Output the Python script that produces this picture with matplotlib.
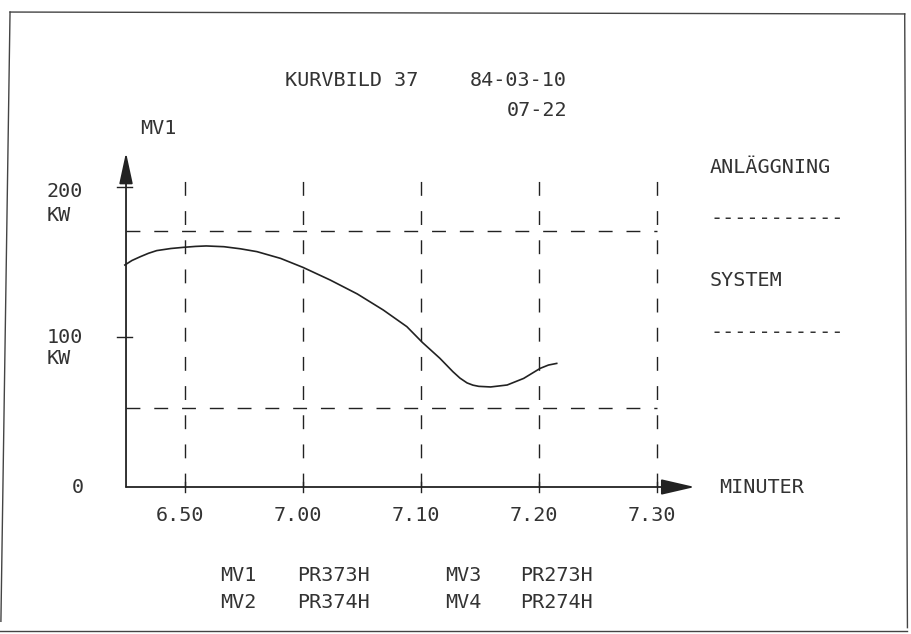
import matplotlib
matplotlib.use("Agg")
import matplotlib.pyplot as plt
from matplotlib.lines import Line2D

# tid i minuter efter 6.50, effekt i kW (MV1)
tid = [-5.1, -4.5, -3.8, -3.1, -2.4, -1.2, -0.1, 0.9, 1.8, 3.3, 4.7, 6.1, 8.1,
       10.0, 12.3, 14.6, 16.8, 18.8, 20.1, 21.6, 22.7, 23.3, 23.9, 24.4, 24.9,
       25.9, 27.3, 28.7, 30.1, 30.8, 31.5]
effekt = [148, 151, 153.5, 155.8, 157.6, 159, 159.8, 160.4, 160.7, 160.2,
          158.8, 156.9, 152.4, 146.4, 138, 128.7, 118, 106.9, 96.5, 85.8,
          76.9, 72.6, 69.4, 67.9, 67.1, 66.7, 68, 72.4, 79.1, 81.3, 82.4]

x_ticks = [0, 10, 20, 30, 40]
x_etiketter = ["6.50", "7.00", "7.10", "7.20", "7.30"]
y_ticks = [100, 200]
gransvarden = [171, 53]  # horisontella streckade linjer

matare = [("MV1", "PR373H"), ("MV2", "PR374H")]
matare2 = [("MV3", "PR273H"), ("MV4", "PR274H")]

LINJE = "#222222"
TEXT = "#333333"
FS = 14.5

plt.rcParams['font.family'] = ['DejaVu Sans Mono', 'DejaVu Sans']
plt.rcParams['lines.scale_dashes'] = False

fig = plt.figure(figsize=(9.12, 6.34), dpi=100)
fig.patch.set_facecolor("white")
ax = fig.add_axes([0, 0, 1, 1])
ax.set_xlim(-15.68, 61.61)
ax.set_ylim(-98, 324.67)
ax.axis("off")

# rutnät
for xt in x_ticks:
    ax.plot([xt, xt], [0, 209], color=LINJE, lw=1.0, dashes=(10, 11))
    ax.plot([xt, xt], [-3.5, 3.5], color=LINJE, lw=1.0)
for g in gransvarden:
    ax.plot([-5, 40], [g, g], color=LINJE, lw=1.0, dashes=(10, 10))

# axlar med pilar
ax.annotate("", xy=(-5, 223), xytext=(-5, 0),
            arrowprops=dict(arrowstyle="-|>,head_length=1.2,head_width=0.26",
                            mutation_scale=16, lw=1.3, color=LINJE,
                            shrinkA=0, shrinkB=0))
ax.annotate("", xy=(43.2, 0), xytext=(-5, 0),
            arrowprops=dict(arrowstyle="-|>,head_length=1.3,head_width=0.3",
                            mutation_scale=16, lw=1.3, color=LINJE,
                            shrinkA=0, shrinkB=0))
for yt in y_ticks:
    ax.plot([-5.8, -4.5], [yt, yt], color=LINJE, lw=1.0)

# kurvan
ax.plot(tid, effekt, color=LINJE, lw=1.2)

# texter
kw = dict(color=TEXT, fontsize=FS, va="center")
for xt, lab in zip(x_ticks, x_etiketter):
    ax.text(xt - 0.45, -19.3, lab, ha="center", **kw)
ax.text(-11.7, 196.7, "200", ha="left", **kw)
ax.text(-11.7, 181.3, "KW", ha="left", **kw)
ax.text(-11.7, 100, "100", ha="left", **kw)
ax.text(-11.7, 86, "KW", ha="left", **kw)
ax.text(-9.6, 0, "0", ha="left", **kw)
ax.text(-3.8, 239.3, "MV1", ha="left", **kw)
ax.text(45.3, 0, "MINUTER", ha="left", **kw)

ax.text(8.47, 270.7, "KURVBILD 37", ha="left", **kw)
ax.text(24.15, 270.7, "84-03-10", ha="left", **kw)
ax.text(32.37, 250.7, "07-22", ha="right", **kw)

ax.text(44.5, 213.3, "ANLÄGGNING", ha="left", **kw)
ax.text(44.5, 179.3, "-----------", ha="left", **kw)
ax.text(44.5, 138, "SYSTEM", ha="left", **kw)
ax.text(44.5, 103.3, "-----------", ha="left", **kw)

for i, (a, b) in enumerate(matare):
    y = -58.7 - 18 * i
    ax.text(2.97, y, a, ha="left", **kw)
    ax.text(9.49, y, b, ha="left", **kw)
for i, (a, b) in enumerate(matare2):
    y = -58.7 - 18 * i
    ax.text(22.03, y, a, ha="left", **kw)
    ax.text(28.39, y, b, ha="left", **kw)

# bildskärmens ram
ram = dict(color="#444444", lw=1.0, transform=fig.transFigure)
fig.add_artist(Line2D([0.011, 0.992], [0.981, 0.978], **ram))
fig.add_artist(Line2D([0.011, 0.001], [0.981, 0.02], **ram))
fig.add_artist(Line2D([0.992, 0.995], [0.978, 0.01], **ram))
fig.add_artist(Line2D([0.0, 0.995], [0.004, 0.004], **ram))

fig.savefig("out.png", dpi=100)
